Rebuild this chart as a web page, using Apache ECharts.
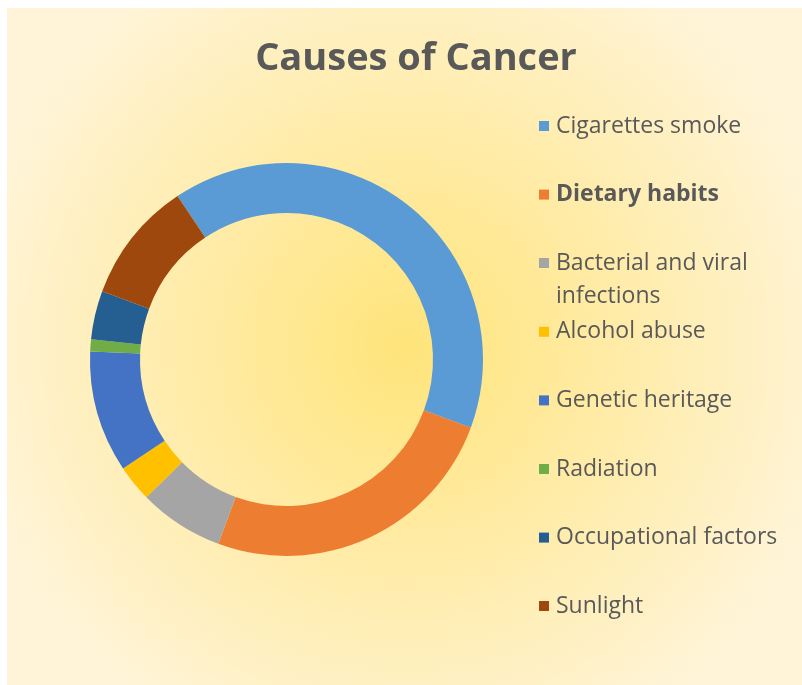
<!DOCTYPE html>
<html>
<head>
<meta charset="utf-8">
<script src="https://cdn.jsdelivr.net/npm/echarts@6/dist/echarts.min.js"></script>
<style>
  html, body { margin: 0; padding: 0; background: #fff; }
  #chart { position: absolute; left: 7px; top: 8px; width: 795px; height: 677px; }
</style>
</head>
<body>
<div id="chart"></div>
<script>
// data (share of cases, %)
var causes = ['Cigarettes smoke', 'Dietary habits', 'Bacterial and viral infections', 'Alcohol abuse',
  'Genetic heritage', 'Radiation', 'Occupational factors', 'Sunlight'];
var shares = [40, 25, 7, 3, 10, 1, 4, 10];
var colors = ['#5B9BD5', '#ED7D31', '#A5A5A5', '#FFC000', '#4472C4', '#70AD47', '#255E91', '#9E480E'];

// vertical centre of each legend row
var rowY = [113, 181.6, 250, 318.8, 387.4, 456, 524.6, 593];

var chart = echarts.init(document.getElementById('chart'));

var legends = causes.map(function (name, i) {
  var wrap = name === 'Bacterial and viral infections';
  return {
    data: [name],
    orient: 'vertical',
    left: 527,
    top: wrap ? rowY[i] - 49.5 : rowY[i] - 16.5,
    icon: 'rect',
    itemWidth: 10,
    itemHeight: 10,
    itemGap: 0,
    selectedMode: false,
    formatter: function (n) {
      // keep the square on the first line of the wrapped label
      return wrap ? '\u00a0\nBacterial and viral\ninfections' : n;
    },
    textStyle: {
      fontFamily: 'Open Sans',
      fontSize: 23,
      lineHeight: 33,
      color: '#595959',
      fontWeight: name === 'Dietary habits' ? 'bold' : 'normal',
      padding: [0, 0, 0, 2]
    }
  };
});

var option = {
  backgroundColor: new echarts.graphic.RadialGradient(0.5, 0.5, 0.65, [
    { offset: 0, color: '#FFE47A' },
    { offset: 0.45, color: '#FFEBA4' },
    { offset: 1, color: '#FFF4D8' }
  ]),
  color: colors,
  title: {
    text: 'Causes of Cancer',
    left: 404,
    top: 27,
    textAlign: 'center',
    textStyle: {
      fontFamily: 'Open Sans',
      fontSize: 38,
      fontWeight: 'bold',
      color: '#595959'
    }
  },
  legend: legends,
  series: [
    {
      type: 'pie',
      radius: [146.5, 196.5],
      center: [279.5, 351.5],
      startAngle: 123.7,
      clockwise: true,
      label: { show: false },
      labelLine: { show: false },
      itemStyle: { borderWidth: 0 },
      data: causes.map(function (n, i) {
        return { name: n, value: shares[i] };
      })
    }
  ]
};

chart.setOption(option);
</script>
</body>
</html>
